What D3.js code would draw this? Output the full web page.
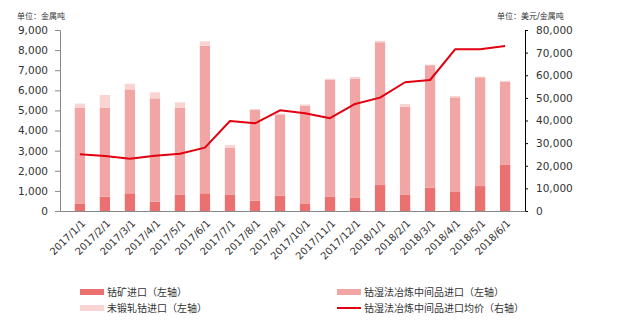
<!DOCTYPE html>
<html><head><meta charset="utf-8">
<script src="https://cdn.jsdelivr.net/npm/d3@7/dist/d3.min.js"></script>
<style>
body{margin:0;background:#fff;}
text{font-family:"DejaVu Sans","Noto Sans CJK SC",sans-serif;}
</style></head>
<body><svg id="c" width="620" height="331"></svg>
<script>
const categories = ["2017/1/1","2017/2/1","2017/3/1","2017/4/1","2017/5/1","2017/6/1","2017/7/1","2017/8/1","2017/9/1","2017/10/1","2017/11/1","2017/12/1","2018/1/1","2018/2/1","2018/3/1","2018/4/1","2018/5/1","2018/6/1"];
const oreImport = [350,710,880,460,800,880,800,510,760,380,700,650,1290,800,1160,945,1240,2290];
const intermediateImport = [4790,4430,5170,5140,4340,7340,2350,4510,4040,4840,5820,5920,7100,4390,6090,4705,5410,4140];
const unwroughtImport = [200,630,280,300,260,220,130,50,50,80,60,100,70,130,30,70,30,40];
const avgPrice = [25060,24300,23100,24450,25300,28000,39780,38750,44500,43200,41000,47300,50100,56900,57900,71450,71450,72900];
const leftTicks = [0,1000,2000,3000,4000,5000,6000,7000,8000,9000];
const rightTicks = [0,10000,20000,30000,40000,50000,60000,70000,80000];
const seriesNames = ["钴矿进口（左轴）","钴湿法冶炼中间品进口（左轴）","未锻轧钴进口（左轴）","钴湿法冶炼中间品进口均价（右轴）"];
const colors = ["#EB7171","#F2A5A5","#FAD3D3","#E00010"];

const svg = d3.select("#c");
const L=60, R=525, T=30, B=211;
const x = d3.scaleBand().domain(categories).range([L,R]).padding(0.59);
const yL = d3.scaleLinear().domain([0,9000]).range([B,T]);
const yR = d3.scaleLinear().domain([0,80000]).range([B,T]);

const stackData = categories.map((c,i)=>({cat:c, ore:oreImport[i], inter:intermediateImport[i], unw:unwroughtImport[i]}));
const stack = d3.stack().keys(["ore","inter","unw"])(stackData);
const g = svg.append("g");
stack.forEach((layer,k)=>{
  g.selectAll(null).data(layer).enter().append("rect")
    .attr("x",d=>x(d.data.cat)).attr("width",x.bandwidth())
    .attr("y",d=>yL(d[1])).attr("height",d=>yL(d[0])-yL(d[1]))
    .attr("fill",colors[k]);
});

// line
const line = d3.line().x((d,i)=>x(categories[i])+x.bandwidth()/2).y(d=>yR(d));
svg.append("path").datum(avgPrice).attr("d",line).attr("fill","none")
  .attr("stroke",colors[3]).attr("stroke-width",2).attr("stroke-linejoin","round");

// left axis
const axL = svg.append("g").attr("transform",`translate(${L},0)`)
  .call(d3.axisLeft(yL).tickValues(leftTicks).tickSize(5).tickPadding(7).tickFormat(d3.format(",")));
axL.select(".domain").attr("stroke","#888");
axL.selectAll(".tick line").attr("stroke","#888");
axL.selectAll("text").attr("font-size","10.5px").attr("fill","#333");

// right axis
const axR = svg.append("g").attr("transform",`translate(${R},0)`)
  .call(d3.axisRight(yR).tickValues(rightTicks).tickSize(3).tickPadding(8).tickFormat(d3.format(",")));
axR.select(".domain").attr("stroke","#000");
axR.selectAll(".tick line").attr("stroke","#000");
axR.selectAll("text").attr("font-size","10.5px").attr("fill","#333");

// bottom axis
const axB = svg.append("g").attr("transform",`translate(0,${B})`)
  .call(d3.axisBottom(x).tickSize(0).tickPadding(0));
axB.select(".domain").attr("stroke","#888");
axB.selectAll("text").attr("font-size","10px").attr("fill","#333")
  .attr("text-anchor","end").attr("dy",0)
  .attr("transform",function(){return "translate(6,13) rotate(-45)";});

// unit labels
svg.append("text").attr("x",17).attr("y",19).attr("font-size","8px").attr("fill","#333").text("单位：金属吨");
svg.append("text").attr("x",497).attr("y",19).attr("font-size","8px").attr("fill","#333").text("单位：美元/金属吨");

// legend
const leg = [
  {i:0,x:80,y:292,type:"rect"},
  {i:2,x:80,y:308,type:"rect"},
  {i:1,x:337,y:292,type:"rect"},
  {i:3,x:337,y:308,type:"line"}
];
leg.forEach(d=>{
  if(d.type==="rect") svg.append("rect").attr("x",d.x).attr("y",d.y-3).attr("width",24).attr("height",6).attr("fill",colors[d.i]);
  else svg.append("line").attr("x1",d.x).attr("x2",d.x+24).attr("y1",d.y).attr("y2",d.y).attr("stroke",colors[d.i]).attr("stroke-width",2);
  svg.append("text").attr("x",d.x+27).attr("y",d.y+4).attr("font-size","10px").attr("fill","#333").text(seriesNames[d.i]);
});
</script></body></html>
